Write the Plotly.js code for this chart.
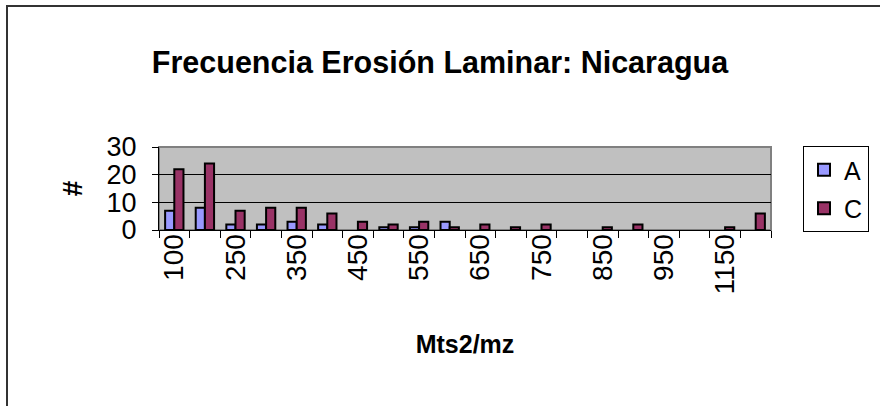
<!DOCTYPE html>
<html>
<head>
<meta charset="utf-8">
<script src="https://cdn.plot.ly/plotly-3.0.1.min.js"></script>
<style>
  html, body { margin: 0; padding: 0; background: #ffffff; }
  #wrap { position: relative; width: 880px; height: 406px; overflow: hidden; }
  #frame { position: absolute; left: 6px; top: 5px; width: 900px; height: 420px;
           border-left: 2px solid #333333; border-top: 2px solid #333333; pointer-events: none; }
  #chart { position: absolute; left: 0; top: 0; width: 880px; height: 406px; }
</style>
</head>
<body>
<div id="wrap">
  <div id="chart"></div>
  <div id="frame"></div>
</div>
<script>
// Erosion classes (Mts2/mz) and counts per series
const categories = ['100', '200', '250', '300', '350', '400', '450', '500', '550', '600',
                    '650', '700', '750', '800', '850', '900', '950', '1050', '1150', '1200'];
const tickLabels = ['100', '', '250', '', '350', '', '450', '', '550', '',
                    '650', '', '750', '', '850', '', '950', '', '1150', ''];
const seriesA = [7, 8, 2, 2, 3, 2, 0, 1, 1, 3, 0, 0, 0, 0, 0, 0, 0, 0, 0, 0];
const seriesC = [22, 24, 7, 8, 8, 6, 3, 2, 3, 1, 2, 1, 2, 0, 1, 2, 0, 0, 1, 6];

const FONT = 'Arial, "Liberation Sans", sans-serif';

// empty classes get no outline, so nothing is drawn for them
const outline = vals => vals.map(v => (v > 0 ? 2 : 0));

const traces = [
  {
    type: 'bar', name: 'A', x: categories, y: seriesA, legendgroup: 'a',
    marker: { color: '#9999FF', line: { color: '#000000', width: outline(seriesA) } },
    hoverinfo: 'x+y'
  },
  {
    type: 'bar', name: 'C', x: categories, y: seriesC, legendgroup: 'c',
    marker: { color: '#993366', line: { color: '#000000', width: outline(seriesC) } },
    hoverinfo: 'x+y'
  }
];

const layout = {
  width: 880, height: 406,
  margin: { l: 159, r: 109, t: 147, b: 176, autoexpand: false },
  paper_bgcolor: '#ffffff',
  plot_bgcolor: '#C0C0C0',
  font: { family: FONT, color: '#000000' },
  barmode: 'group',
  bargap: 0.4,
  bargroupgap: 0,
  title: {
    text: '<b>Frecuencia Erosión Laminar: Nicaragua</b>',
    font: { family: FONT, size: 30.5, color: '#000000' },
    x: 0.5, xref: 'container', xanchor: 'center',
    y: 1 - 62 / 406, yref: 'container', yanchor: 'middle'
  },
  xaxis: {
    type: 'category',
    tickmode: 'array',
    tickvals: categories,
    ticktext: tickLabels,
    tickson: 'boundaries',
    ticks: 'outside', ticklen: 7, tickwidth: 1, tickcolor: '#000000',
    tickangle: -90,
    ticklabelstandoff: -8,
    tickfont: { family: FONT, size: 28, color: '#000000' },
    showline: true, linecolor: '#000000', linewidth: 1,
    showgrid: false, zeroline: false,
    automargin: false,
    title: {
      text: '<b>Mts2/mz</b>',
      font: { family: FONT, size: 25, color: '#000000' },
      standoff: 42
    }
  },
  yaxis: {
    range: [0, 30],
    tickmode: 'linear', tick0: 0, dtick: 10,
    ticks: 'outside', ticklen: 6, tickwidth: 1, tickcolor: '#000000',
    ticklabelstandoff: 10,
    tickfont: { family: FONT, size: 27, color: '#000000' },
    showline: true, linecolor: '#000000', linewidth: 1,
    showgrid: true, gridcolor: '#000000', gridwidth: 1,
    zeroline: false,
    automargin: false,
    title: {
      text: '<b>#</b>',
      font: { family: FONT, size: 28, color: '#000000' },
      standoff: 15
    }
  },
  shapes: [
    {
      type: 'rect', xref: 'paper', yref: 'paper', x0: 0, x1: 1, y0: 0, y1: 1,
      line: { color: '#808080', width: 2 }, fillcolor: 'rgba(0,0,0,0)', layer: 'below'
    }
  ],
  showlegend: true,
  legend: {
    x: (803 - 159) / 612, xanchor: 'left',
    y: (230 - 146) / 83, yanchor: 'top',
    bgcolor: '#ffffff',
    bordercolor: '#000000', borderwidth: 1,
    font: { family: FONT, size: 25, color: '#000000' },
    traceorder: 'grouped',
    tracegroupgap: 3,
    itemwidth: 30
  }
};

Plotly.newPlot('chart', traces, layout, { displayModeBar: false, staticPlot: true });
</script>
</body>
</html>
